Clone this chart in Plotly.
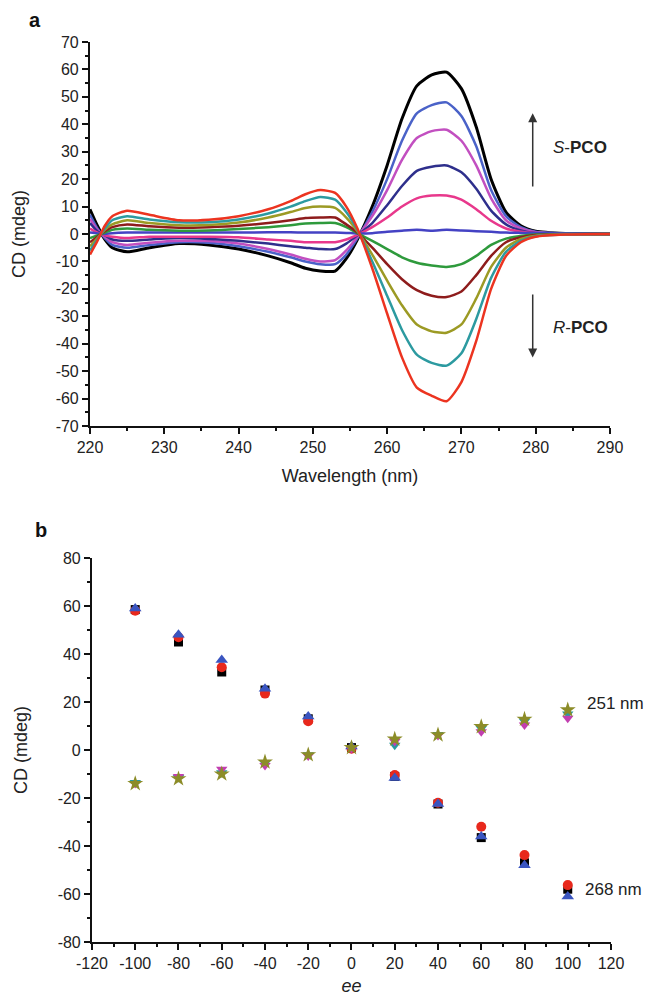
import plotly.graph_objects as go

# ---- panel a: CD spectra ----
wavelength = [220, 221, 222, 223, 225, 228, 232, 236, 240, 244, 247, 249, 251, 253, 254.5,
              256, 258, 260, 262, 264, 266, 268, 270, 272, 274, 276, 278, 280, 284, 290]

cd_black = [9, 3, -2, -5, -6.5, -5, -3.5, -4, -5.5, -8, -10.5, -12.5, -13.5, -13.5, -9,
            -2, 10, 25, 42, 54, 58, 59, 53, 39, 20, 8, 3, 1, 0.2, 0]
cd_blue = [7, 2, -1.5, -4, -5, -4, -3, -3.2, -4.5, -6.5, -8.5, -10, -11, -11, -7.5,
           -1.5, 8, 20, 34, 44, 47, 48, 43, 32, 16, 6.5, 2.5, 0.8, 0.2, 0]
cd_violet = [5.5, 1.5, -1, -3, -4, -3.2, -2.5, -2.6, -3.5, -5.5, -7.5, -9, -10, -9.5, -6,
             -1, 6.5, 16, 27, 35, 37.5, 38, 34, 25, 13, 5, 2, 0.6, 0.1, 0]
cd_navy = [4, 1, -0.5, -2, -2.5, -2, -1.5, -1.8, -2.5, -3.5, -4.5, -5, -5.5, -5.5, -3.5,
           -0.5, 4, 10.5, 17.5, 23, 24.5, 25, 22.5, 16.5, 8.5, 3.5, 1.3, 0.4, 0.1, 0]
cd_pink = [2, 0.5, -0.5, -1, -1.5, -1, -1, -1, -1.2, -2, -2.5, -3, -3, -3, -2,
           -0.3, 2.5, 6, 10, 13, 14, 14, 12.5, 9, 4.8, 2, 0.8, 0.3, 0, 0]
cd_flat = [0.5, 0.2, 0, 0.3, 0.5, 0.5, 0.5, 0.5, 0.5, 0.6, 0.6, 0.5, 0.5, 0.5, 0.4,
           0.2, 0.3, 0.8, 1.2, 1.5, 1.2, 1.5, 1.3, 1, 0.8, 0.5, 0.4, 0.3, 0.2, 0.3]
cd_green = [-1.5, -0.5, 0.5, 1.5, 2, 1.5, 1.2, 1.3, 1.8, 2.5, 3.2, 3.8, 4, 4, 2.5,
            0.3, -2.5, -5.5, -8.5, -10.5, -11.5, -12, -11, -8, -4, -1.7, -0.7, -0.2, 0, 0]
cd_brown = [-3, -1, 1, 2.5, 3.5, 2.8, 2.3, 2.5, 3, 4, 5, 5.8, 6, 6, 3.5,
            0.5, -5, -11, -16.5, -20.5, -22.5, -23, -21, -15, -8, -3, -1.2, -0.4, -0.1, 0]
cd_olive = [-4.5, -1.5, 1.5, 3.5, 5, 4, 3.2, 3.3, 4.2, 6, 8, 9.5, 10, 9.5, 6,
            1, -7.5, -17, -26, -33, -35.5, -36, -33, -23.5, -12, -5, -1.8, -0.6, -0.1, 0]
cd_teal = [-6, -2, 2, 5, 6.5, 5.3, 4.3, 4.3, 5.3, 7.5, 10, 12, 13.5, 12.5, 8,
           1.5, -10, -22.5, -35, -44, -47, -48, -43.5, -31, -16, -6.5, -2.5, -0.8, -0.2, 0]
cd_red = [-7.5, -2.5, 3, 6.5, 8.5, 7, 5, 5.2, 6.5, 9, 12, 14.5, 16, 15, 10,
          2, -12.5, -29, -45, -56, -59, -61, -54, -39, -20, -8, -3, -1, -0.2, 0]

spectra = [
    (cd_black, "#000000", 3),
    (cd_blue, "#4a62c8", 2.5),
    (cd_violet, "#c24fc0", 2.5),
    (cd_navy, "#2e2f8c", 2.5),
    (cd_pink, "#e8388c", 2.5),
    (cd_flat, "#4442c4", 2.5),
    (cd_green, "#2e9a3c", 2.5),
    (cd_brown, "#8e1c1c", 2.5),
    (cd_olive, "#9c9a24", 2.5),
    (cd_teal, "#2c9aa0", 2.5),
    (cd_red, "#ec3420", 2.5),
]

# ---- panel b: CD vs ee ----
ee = [-100, -80, -60, -40, -20, 0, 20, 40, 60, 80, 100]
cd268_square = [58.5, 45, 32.5, 25, 13, 1, -11, -22.5, -36.5, -47, -58]
cd268_circle = [58, 47, 34.5, 23.5, 12, 0.5, -10.4, -22, -32, -43.8, -56.3]
cd268_triangle = [59, 48, 37.5, 25.5, 14, 1.5, -11.7, -22.5, -36, -48, -61]
cd251_star = [-14, -12, -10, -5, -2, 1, 4.5, 6.3, 9.7, 12.8, 16.7]
cd251_magenta = [-14, -11, -8, -6.5, -2.5, 0.5, 3.5, 6, 7.6, 10.4, 13.2]
cd251_teal = [-13.5, -11.5, -9.5, -5.5, -2, 0.8, 2, 6.5, 9, 12, 15]

ticks_a_x = [220, 230, 240, 250, 260, 270, 280, 290]
ticks_a_y = [70, 60, 50, 40, 30, 20, 10, 0, -10, -20, -30, -40, -50, -60, -70]
ticks_b_x = [-120, -100, -80, -60, -40, -20, 0, 20, 40, 60, 80, 100, 120]
ticks_b_y = [80, 60, 40, 20, 0, -20, -40, -60, -80]

FONT = "Arial, Liberation Sans, sans-serif"
TXT = "#222222"
W, H = 647, 989  # page body has an 8px margin

fig = go.Figure()

for vals, col, w in spectra:
    fig.add_trace(go.Scatter(x=wavelength, y=vals, mode="lines", line=dict(color=col, width=w, shape="spline", smoothing=0.6),
                             xaxis="x", yaxis="y", showlegend=False, hoverinfo="skip"))

markers = [
    (cd268_square, "#000000", "square", 9),
    (cd268_circle, "#e8281c", "circle", 10),
    (cd268_triangle, "#3a55c0", "triangle-up", 11),
    (cd251_teal, "#2a9aa0", "triangle-down", 10),
    (cd251_magenta, "#c23fb0", "triangle-down", 10),
    (cd251_star, "#8c8c28", "star", 12),
]
for vals, col, sym, sz in markers:
    fig.add_trace(go.Scatter(x=ee, y=vals, mode="markers", marker=dict(color=col, symbol=sym, size=sz, line=dict(width=0)),
                             xaxis="x2", yaxis="y2", showlegend=False))

axis_common = dict(showline=True, linecolor="#111111", linewidth=2, ticks="outside", ticklen=6, tickwidth=2,
                   tickcolor="#111111", showgrid=False, zeroline=False, mirror=False, automargin=False,
                   tickfont=dict(family=FONT, size=16, color=TXT))
minor_a = dict(dtick=5, ticks="outside", ticklen=3, tickwidth=2, tickcolor="#111111")
minor_b = dict(dtick=10, ticks="outside", ticklen=3, tickwidth=2, tickcolor="#111111")
title_font = dict(family=FONT, size=18, color=TXT)

fig.update_layout(
    width=W, height=H,
    margin=dict(l=0, r=0, t=0, b=0),
    paper_bgcolor="white", plot_bgcolor="white",
    xaxis=dict(axis_common, domain=[0.1267, 0.9304], range=[220, 290], anchor="y",
               tickvals=ticks_a_x, ticktext=[str(v) for v in ticks_a_x], minor=minor_a,
               title=dict(text="Wavelength (nm)", font=title_font, standoff=14)),
    yaxis=dict(axis_common, domain=[0.5774, 0.9656], range=[-70, 70], anchor="x",
               tickvals=ticks_a_y, ticktext=[str(v) for v in ticks_a_y], minor=minor_a,
               title=dict(text="CD (mdeg)", font=title_font, standoff=25)),
    xaxis2=dict(axis_common, domain=[0.1298, 0.932], range=[-120, 120], anchor="y2",
                tickvals=ticks_b_x, ticktext=[str(v) for v in ticks_b_x], minor=minor_b,
                title=dict(text="<i>ee</i>", font=title_font, standoff=8)),
    yaxis2=dict(axis_common, domain=[0.0556, 0.4439], range=[-80, 80], anchor="x2",
                tickvals=ticks_b_y, ticktext=[str(v) for v in ticks_b_y], minor=minor_b,
                title=dict(text="CD (mdeg)", font=title_font, standoff=25)),
)

arrow = dict(showarrow=True, arrowhead=2, arrowsize=1.2, arrowwidth=1.5, arrowcolor="#333333",
             xref="x", yref="y", axref="x", ayref="y", text="")
fig.add_annotation(arrow, x=279.6, y=44, ax=279.6, ay=16.8)
fig.add_annotation(arrow, x=279.6, y=-45, ax=279.6, ay=-21.5)

label = dict(showarrow=False, xanchor="left", font=dict(family=FONT, size=17, color=TXT))
fig.add_annotation(label, x=282, y=31.5, xref="x", yref="y", text="<i>S</i>-<b>PCO</b>")
fig.add_annotation(label, x=282, y=-34, xref="x", yref="y", text="<i>R</i>-<b>PCO</b>")
label_b = dict(label, borderpad=0, font=dict(family=FONT, size=17, color=TXT))
fig.add_annotation(label_b, x=108.5, y=19.5, xref="x2", yref="y2", text="251 nm")
fig.add_annotation(label_b, x=107.5, y=-58, xref="x2", yref="y2", text="268 nm")

panel = dict(showarrow=False, xref="paper", yref="paper", xanchor="left", yanchor="middle",
             font=dict(family=FONT, size=20, color="#111111"))
fig.add_annotation(panel, x=19 / W, y=1 - 12 / H, text="<b>a</b>")
fig.add_annotation(panel, x=25 / W, y=1 - 522 / H, text="<b>b</b>")

fig.write_html("out.html")
